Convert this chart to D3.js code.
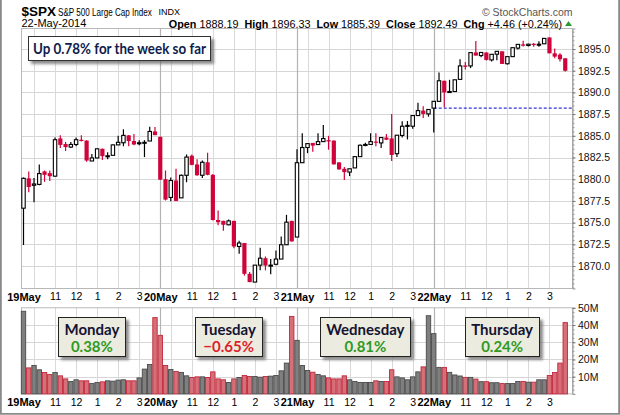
<!DOCTYPE html>
<html><head><meta charset="utf-8">
<script src="https://cdn.jsdelivr.net/npm/d3@7"></script>
<style>body{margin:0;background:#fff}svg{display:block}</style>
</head><body><svg id="c" width="620" height="415"></svg>
<script>
// ---- DATA (15-minute bars, 26 per session) ----
const sessions = ["19May","20May","21May","22May"];
const hourLabels = ["11","12","1","2","3"];
const dayNames = ["Monday","Tuesday","Wednesday","Thursday"];
const dayChanges = [0.38,-0.65,0.81,0.24];
const priceTicks = [1870,1872.5,1875,1877.5,1880,1882.5,1885,1887.5,1890,1892.5,1895];
const volumeTicks = [10,20,30,40,50];
const weekOpenLevel = 1888.19;

const opens = [
1876.66,1880.10,1879.30,1879.40,1880.90,1880.70,1880.35,1884.70,1884.05,1883.70,1884.00,1884.55,1884.45,1882.10,1882.45,1883.50,1882.60,1882.75,1883.95,1884.20,1885.05,1884.40,1884.10,1884.20,1884.40,1885.50,
1884.88,1880.00,1877.90,1879.85,1877.85,1880.45,1882.70,1881.70,1880.45,1881.95,1880.50,1875.30,1875.20,1874.75,1875.20,1872.25,1872.65,1869.10,1868.15,1870.10,1870.90,1870.05,1870.20,1870.80,1872.45,1875.20,
1873.34,1881.90,1883.65,1884.18,1883.99,1884.33,1884.50,1884.45,1881.94,1881.20,1880.82,1881.30,1882.60,1883.90,1884.00,1884.33,1884.18,1884.80,1884.70,1882.94,1885.04,1886.10,1886.10,1887.33,1887.90,1887.52,
1888.19,1888.97,1891.34,1890.00,1890.10,1891.50,1893.10,1893.05,1894.60,1894.24,1894.60,1893.74,1894.40,1894.73,1893.30,1894.12,1895.10,1895.53,1895.40,1895.60,1895.50,1895.60,1896.33,1894.50,1894.35,1893.93];
const highs = [
1880.20,1880.90,1880.15,1881.70,1881.00,1881.00,1884.80,1885.05,1884.30,1884.30,1884.80,1885.05,1884.50,1882.90,1883.55,1883.55,1883.10,1884.00,1885.00,1885.75,1885.10,1885.20,1884.50,1884.50,1886.05,1886.00,
1884.88,1881.00,1880.20,1881.20,1880.55,1882.85,1882.85,1882.30,1882.15,1883.05,1880.60,1876.40,1875.20,1875.35,1875.20,1872.90,1872.65,1869.30,1870.10,1872.10,1871.10,1870.80,1871.80,1873.40,1875.90,1875.20,
1883.45,1885.30,1884.10,1884.18,1885.30,1886.23,1885.00,1884.45,1881.94,1881.40,1881.20,1882.60,1884.00,1884.20,1885.30,1885.30,1884.80,1885.20,1887.50,1885.07,1886.68,1886.70,1887.33,1888.80,1888.40,1888.09,
1888.97,1892.29,1891.34,1891.45,1891.45,1893.82,1893.50,1894.58,1895.92,1894.65,1894.60,1894.39,1894.76,1894.73,1894.20,1895.15,1895.53,1895.95,1895.60,1895.70,1895.90,1896.22,1896.33,1895.05,1894.50,1893.93];
const lows = [
1872.42,1878.50,1877.35,1879.30,1879.70,1879.80,1880.30,1883.60,1883.25,1883.60,1883.80,1884.35,1882.00,1882.10,1882.40,1882.20,1882.30,1882.75,1883.95,1883.80,1883.80,1883.90,1883.90,1882.55,1884.40,1885.05,
1879.90,1877.55,1877.45,1877.45,1877.85,1879.65,1881.60,1880.40,1880.15,1880.45,1875.25,1874.70,1874.05,1874.70,1872.05,1871.40,1868.90,1868.14,1868.15,1869.50,1869.50,1869.05,1870.10,1870.80,1872.45,1872.83,
1873.34,1881.90,1883.00,1883.15,1883.99,1884.30,1883.40,1881.70,1881.10,1879.90,1880.36,1881.30,1882.60,1883.80,1884.00,1883.80,1883.60,1884.50,1882.10,1882.56,1884.80,1884.58,1885.80,1887.30,1887.06,1887.20,
1885.39,1888.90,1888.28,1889.95,1890.10,1891.50,1892.65,1892.80,1894.24,1894.05,1893.66,1893.55,1893.70,1893.28,1893.20,1894.12,1894.95,1895.30,1895.30,1895.27,1895.27,1895.60,1894.50,1893.93,1893.55,1892.40];
const closes = [
1880.10,1879.10,1879.45,1880.65,1880.50,1880.35,1884.55,1883.95,1883.70,1884.00,1884.55,1884.40,1882.15,1882.45,1883.50,1882.65,1882.70,1883.95,1884.25,1885.05,1884.40,1884.00,1884.20,1884.25,1885.50,1885.08,
1879.95,1877.65,1879.85,1877.50,1880.45,1882.55,1881.65,1880.45,1881.95,1880.50,1875.30,1875.05,1874.75,1875.20,1872.25,1872.65,1869.10,1868.15,1870.10,1870.90,1870.05,1870.10,1870.80,1872.45,1875.05,1872.83,
1881.90,1883.65,1884.10,1883.87,1884.33,1884.68,1884.35,1881.71,1881.13,1880.82,1881.20,1882.60,1883.91,1884.00,1884.33,1884.20,1884.80,1884.55,1882.79,1885.07,1886.10,1886.20,1887.33,1887.90,1887.52,1888.03,
1888.97,1891.34,1890.00,1890.10,1891.45,1893.05,1892.95,1894.58,1894.24,1894.60,1893.74,1894.39,1894.73,1893.28,1894.12,1895.15,1895.53,1895.38,1895.55,1895.45,1895.55,1896.22,1894.50,1894.12,1893.82,1892.49];
const volumes = [ // millions
48.0,15.1,16.5,14.0,12.4,11.3,12.4,10.5,8.7,7.2,8.2,7.6,7.6,6.0,6.6,7.0,7.6,7.4,8.0,8.2,7.6,7.6,9.3,14.4,17.1,44.3,
34.0,16.5,14.2,13.0,12.4,10.5,9.5,9.9,9.9,9.5,12.8,8.7,8.2,6.6,8.7,9.5,10.7,10.1,10.1,9.7,10.1,10.3,10.7,13.4,17.9,45.0,
31.1,16.5,13.6,12.6,11.3,10.5,9.3,8.7,8.7,10.5,8.2,7.2,6.6,6.6,6.6,7.6,7.2,7.2,14.0,9.9,9.3,8.2,9.9,12.8,15.7,45.4,
35.0,15.4,15.4,12.5,11.0,10.4,9.6,9.6,8.6,7.1,7.1,6.5,6.5,6.0,6.0,6.0,7.2,7.2,6.8,6.8,8.2,8.2,10.7,12.4,17.9,41.4];

// ---- LAYOUT ----
const BARS = 26;
const L = 21.5, R = 572.5, pTop = 28.5, pBot = 288.5, vTop = 307.8, vBot = 393.9;
const RED = "#d0043a", ARIAL = "'Liberation Sans', Arial, sans-serif", CAL = "Lato, 'Open Sans', sans-serif";
const svg = d3.select("#c");

const x = d3.scaleLinear().domain([0, sessions.length * BARS]).range([23.5, 570.5]);
const y = d3.scaleLinear().domain([1867.41, 1897.36]).range([pBot, pTop]);
const yv = d3.scaleLinear().domain([0, 50]).range([vBot, vTop]);

const defs = svg.append("defs");
const f = defs.append("filter").attr("id","sh").attr("x","-20%").attr("y","-20%").attr("width","150%").attr("height","160%");
f.append("feDropShadow").attr("dx",3).attr("dy",3).attr("stdDeviation",1.6).attr("flood-color","#666").attr("flood-opacity",0.75);

// outer frame
svg.append("path").attr("d","M0.9,0 V413.9 H619.1 V0").attr("fill","none").attr("stroke","#8a8a8a").attr("stroke-width",1.8);

// grid indices
const hourIdx = [], dayIdx = [];
sessions.forEach((s,d)=>{ [2,6,10,14,18,22].forEach(h=>hourIdx.push(d*BARS+h)); if(d>0) dayIdx.push(d*BARS); });

function panelGrid(top, bot, hTicks, scale){
  const g = svg.append("g");
  g.selectAll(".h").data(hTicks).join("line")
    .attr("x1",L).attr("x2",R).attr("y1",d=>Math.round(scale(d))+0.5).attr("y2",d=>Math.round(scale(d))+0.5)
    .attr("stroke","#d6d6d6");
  g.selectAll(".v").data(hourIdx).join("line")
    .attr("x1",d=>Math.round(x(d))+0.5).attr("x2",d=>Math.round(x(d))+0.5).attr("y1",top).attr("y2",bot)
    .attr("stroke","#d9d9d9");
  g.selectAll(".d").data(dayIdx).join("line")
    .attr("x1",d=>Math.round(x(d))+0.5).attr("x2",d=>Math.round(x(d))+0.5).attr("y1",top).attr("y2",bot)
    .attr("stroke","#b3b3b3").attr("stroke-width",1.2);
  g.append("rect").attr("x",L).attr("y",top).attr("width",R-L).attr("height",bot-top)
    .attr("fill","none").attr("stroke","#b8b8b8");
}
panelGrid(pTop, pBot, priceTicks, y);
panelGrid(vTop, vBot, volumeTicks.slice(0,4), yv);

// prior-close reference line (Thursday open)
svg.append("line").attr("x1",x(3*BARS)).attr("x2",R).attr("y1",y(weekOpenLevel)).attr("y2",y(weekOpenLevel))
  .attr("stroke","#0000cc").attr("stroke-width",1).attr("stroke-dasharray","3,2");

// candles
const idx = d3.range(closes.length);
const col = i => closes[i] >= (i ? closes[i-1] : opens[0]) ? "#000" : RED;
const cg = svg.append("g");
cg.selectAll(".w").data(idx).join("line")
  .attr("x1",i=>x(i)).attr("x2",i=>x(i)).attr("y1",i=>y(highs[i])).attr("y2",i=>y(lows[i]))
  .attr("stroke",col).attr("stroke-width",1.2);
cg.selectAll(".b").data(idx).join("rect")
  .attr("x",i=>closes[i]<opens[i] ? x(i)-2.1 : x(i)-1.7)
  .attr("width",i=>closes[i]<opens[i] ? 4.2 : 3.4)
  .attr("y",i=>y(Math.max(opens[i],closes[i])))
  .attr("height",i=>Math.max(1,Math.abs(y(opens[i])-y(closes[i]))))
  .attr("fill",i=>closes[i]<opens[i] ? col(i) : "#fff")
  .attr("stroke",i=>closes[i]<opens[i] ? "none" : col(i)).attr("stroke-width",1.1);

// volume bars
svg.append("g").selectAll("rect").data(idx).join("rect")
  .attr("x",i=>x(i)-2.2).attr("width",4.4)
  .attr("y",i=>yv(volumes[i])).attr("height",i=>vBot-yv(volumes[i]))
  .attr("fill",i=>col(i)==="#000" ? "#7f7f7f" : "#d66f78")
  .attr("stroke",i=>col(i)==="#000" ? "#4a4a4a" : "#c0283c").attr("stroke-width",0.9);

// right axes
function styleAxis(g){
  g.select(".domain").attr("stroke","#9a9a9a");
  g.selectAll(".tick line").attr("stroke","#777");
  g.selectAll("text").attr("font-family",ARIAL).attr("font-size","10.5px").attr("fill","#111");
}
svg.append("g").attr("transform",`translate(${R},0)`)
  .call(d3.axisRight(y).tickValues(d3.range(1867.5,1897.01,0.5)).tickSize(2).tickFormat(""))
  .call(g=>{g.select(".domain").remove(); g.selectAll("line").attr("stroke","#999");});
svg.append("g").attr("transform",`translate(${R},0)`)
  .call(d3.axisRight(y).tickValues(priceTicks).tickSize(3).tickPadding(2.5).tickFormat(d3.format(".1f")))
  .call(styleAxis);
svg.append("g").attr("transform",`translate(${R},0)`)
  .call(d3.axisRight(yv).tickValues(d3.range(0,50.01,2.5)).tickSize(2).tickFormat(""))
  .call(g=>{g.select(".domain").remove(); g.selectAll("line").attr("stroke","#999");});
svg.append("g").attr("transform",`translate(${R},0)`)
  .call(d3.axisRight(yv).tickValues(volumeTicks).tickSize(3).tickPadding(2.5).tickFormat(d=>d+"M"))
  .call(styleAxis);

// bottom time axes
const tickIdx = [], tickLab = [];
sessions.forEach((s,d)=>{ tickIdx.push(d*BARS); tickLab.push(s); [6,10,14,18,22].forEach((h,k)=>{tickIdx.push(d*BARS+h); tickLab.push(hourLabels[k]);}); });
function timeAxis(yPos){
  svg.append("g").attr("transform",`translate(0,${yPos})`)
    .call(d3.axisBottom(x).tickValues(tickIdx).tickSize(0).tickPadding(4.5).tickFormat((d,i)=>tickLab[i]))
    .call(g=>{
      g.select(".domain").remove();
      g.selectAll("text").attr("font-family",ARIAL).attr("fill","#000")
        .attr("font-size",(d,i)=>sessions.includes(tickLab[i]) ? "11px" : "10.5px")
        .attr("font-weight",(d,i)=>sessions.includes(tickLab[i]) ? "bold" : "normal");
    });
}
timeAxis(pBot);
timeAxis(vBot);

// header
svg.append("text").attr("x",21.5).attr("y",15.5).attr("font-family",ARIAL).attr("font-size","13.5px").attr("font-weight","bold").text("$SPX");
svg.append("text").attr("transform","translate(58,15.5) scale(0.81,1)").attr("font-family",ARIAL).attr("font-size","10px")
  .text("S&P 500 Large Cap Index");
svg.append("text").attr("x",158.5).attr("y",14.8).attr("font-family",ARIAL).attr("font-size","9px").text("INDX");
svg.append("text").attr("x",21.5).attr("y",27).attr("font-family",ARIAL).attr("font-size","11px").text("22-May-2014");
svg.append("text").attr("x",R).attr("y",15.5).attr("text-anchor","end").attr("font-family",ARIAL).attr("font-size","10.5px").attr("fill","#555").text("\u00A9 StockCharts.com");
const stats = [["Open","1888.19"],["High","1896.33"],["Low","1885.39"],["Close","1892.49"],["Chg","+4.46 (+0.24%)"]];
const st = svg.append("text").attr("x",562).attr("y",27.5).attr("text-anchor","end").attr("font-family",ARIAL).attr("font-size","10.8px").style("white-space","pre");
stats.forEach((s,k)=>{
  st.append("tspan").attr("font-weight","bold").text((k?"  ":"")+s[0]);
  st.append("tspan").text(" "+s[1]);
});
svg.append("path").attr("d","M565,26 L568.5,21 L572,26 Z").attr("fill","#2e9a2e");

// week annotation
const ag = svg.append("g");
ag.append("rect").attr("x",28.5).attr("y",36.5).attr("width",182).attr("height",24).attr("fill","#fff").attr("stroke","#333").attr("filter","url(#sh)");
ag.append("text").attr("x",33).attr("y",53.5).attr("font-family",CAL).attr("font-weight","bold").attr("font-size","15px")
  .attr("fill","#0f1c4d").attr("textLength",173).attr("lengthAdjust","spacingAndGlyphs").text("Up 0.78% for the week so far");

// daily boxes
dayNames.forEach((name,d)=>{
  const cx = x(d*BARS + 13);
  const g = svg.append("g");
  const r = g.append("rect").attr("y",317.5).attr("height",39).attr("fill","#ecebe0").attr("stroke","#222").attr("filter","url(#sh)");
  const t = g.append("text").attr("x",cx).attr("y",335).attr("text-anchor","middle").attr("font-family",CAL)
    .attr("font-weight","bold").attr("font-size","15px").attr("fill","#141432").text(name);
  const v = dayChanges[d];
  g.append("text").attr("x",cx).attr("y",352).attr("text-anchor","middle").attr("font-family",CAL)
    .attr("font-weight","bold").attr("font-size","15px").attr("fill",v>=0 ? "#2f9a22" : "#dc1f2a")
    .text(d3.format(".2f")(v)+"%");
  const w = t.node().getComputedTextLength() + 12;
  r.attr("x",Math.round(cx - w/2)+0.5).attr("width",Math.round(w));
});
</script></body></html>
